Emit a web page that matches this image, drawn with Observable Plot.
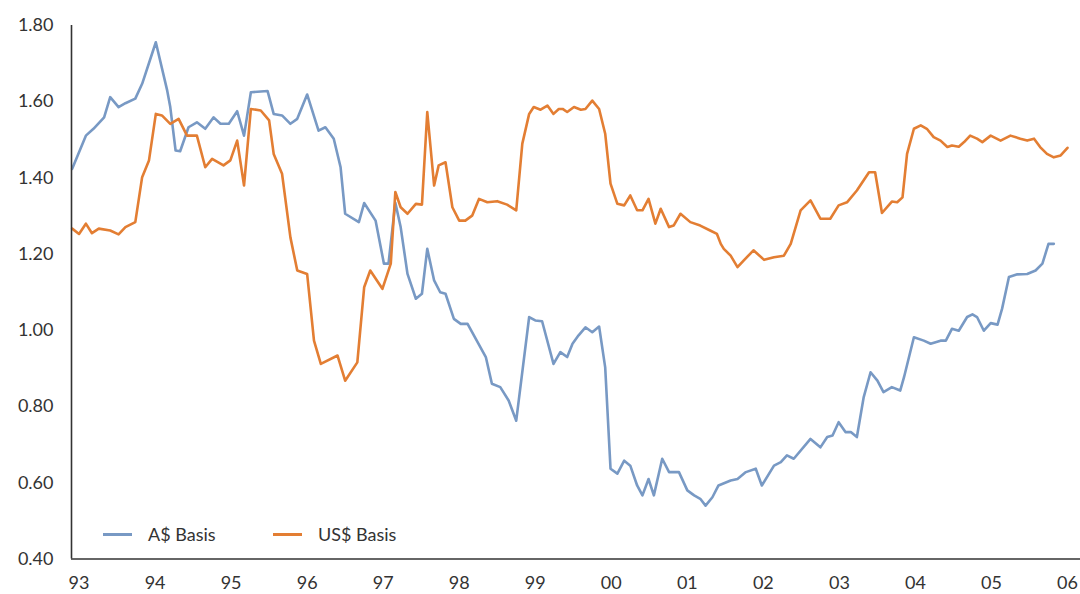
<!DOCTYPE html>
<html>
<head>
<meta charset="utf-8">
<script src="https://cdn.jsdelivr.net/npm/d3@7"></script>
<script src="https://cdn.jsdelivr.net/npm/@observablehq/plot@0.6"></script>
<style>
  html, body { margin: 0; padding: 0; background: #fff; }
  #wrap { position: relative; width: 1080px; height: 594px; font-family: Lato, "Noto Sans", sans-serif; }
  #legend { position: absolute; left: 103px; top: 523px; display: flex; align-items: center; font-size: 18px; color: #333; }
  #legend .sw { display: inline-block; width: 29px; height: 3px; margin-right: 16px; }
  #legend .item { display: flex; align-items: center; width: 170px; }
</style>
</head>
<body>
<div id="wrap"><div id="legend"></div></div>
<script>
// A$ Basis (decimal year, value)
const aYears = [1992.91,1993.09,1993.19,1993.33,1993.41,1993.52,1993.61,1993.74,1993.83,1994.01,1994.16,1994.20,1994.27,1994.33,1994.44,1994.55,1994.66,1994.77,1994.86,1994.97,
1995.08,1995.17,1995.26,1995.48,1995.56,1995.67,1995.78,1995.87,1996.00,1996.15,1996.24,1996.35,1996.44,1996.50,1996.68,1996.75,1996.90,1997.01,1997.07,1997.16,
1997.23,1997.32,1997.43,1997.51,1997.58,1997.67,1997.75,1997.82,1997.93,1998.02,1998.11,1998.35,1998.43,1998.54,1998.65,1998.75,1998.92,1999.00,1999.09,1999.24,
1999.33,1999.42,1999.49,1999.57,1999.66,1999.75,1999.84,1999.92,1999.99,2000.08,2000.17,2000.25,2000.34,2000.41,2000.49,2000.56,2000.67,2000.76,2000.89,2001.00,
2001.09,2001.17,2001.24,2001.33,2001.41,2001.57,2001.66,2001.77,2001.90,2001.98,2002.14,2002.23,2002.31,2002.40,2002.62,2002.75,2002.84,2002.91,2002.99,2003.08,
2003.15,2003.23,2003.32,2003.41,2003.50,2003.58,2003.69,2003.80,2003.85,2003.98,2004.11,2004.20,2004.33,2004.40,2004.48,2004.57,2004.68,2004.75,2004.81,2004.90,
2004.99,2005.08,2005.14,2005.23,2005.34,2005.47,2005.58,2005.67,2005.75,2005.82];
const aValues = [1.424,1.511,1.529,1.559,1.612,1.586,1.596,1.608,1.647,1.756,1.629,1.586,1.472,1.470,1.533,1.546,1.529,1.559,1.542,1.542,
1.575,1.511,1.625,1.628,1.568,1.564,1.542,1.555,1.619,1.524,1.533,1.503,1.428,1.306,1.284,1.334,1.288,1.175,1.175,1.335,
1.271,1.148,1.083,1.096,1.214,1.131,1.100,1.096,1.030,1.017,1.017,0.930,0.860,0.851,0.816,0.763,1.035,1.026,1.024,0.912,
0.943,0.930,0.965,0.987,1.008,0.995,1.010,0.903,0.637,0.624,0.658,0.645,0.593,0.567,0.610,0.567,0.663,0.628,0.628,0.580,
0.567,0.558,0.540,0.562,0.593,0.606,0.610,0.628,0.637,0.593,0.645,0.654,0.672,0.663,0.715,0.693,0.720,0.724,0.759,0.733,
0.733,0.720,0.825,0.890,0.868,0.838,0.851,0.842,0.877,0.982,0.973,0.965,0.973,0.973,1.004,0.999,1.035,1.042,1.035,0.999,
1.019,1.015,1.057,1.140,1.147,1.148,1.157,1.175,1.227,1.227];

// US$ Basis (decimal year, value)
const uYears = [1992.91,1993.00,1993.09,1993.17,1993.26,1993.41,1993.52,1993.61,1993.74,1993.83,1993.92,1994.01,1994.09,1994.20,1994.31,1994.42,1994.55,1994.66,1994.75,1994.90,
1994.99,1995.08,1995.17,1995.26,1995.39,1995.50,1995.56,1995.67,1995.78,1995.87,1996.00,1996.09,1996.18,1996.40,1996.50,1996.66,1996.75,1996.83,1996.99,1997.10,
1997.16,1997.23,1997.32,1997.43,1997.51,1997.58,1997.67,1997.73,1997.82,1997.91,1998.00,1998.08,1998.17,1998.26,1998.37,1998.50,1998.63,1998.75,1998.83,1998.92,
1998.98,1999.07,1999.16,1999.24,1999.31,1999.36,1999.42,1999.51,1999.60,1999.66,1999.75,1999.84,1999.92,1999.99,2000.08,2000.17,2000.25,2000.34,2000.41,2000.49,
2000.58,2000.65,2000.76,2000.82,2000.91,2001.04,2001.17,2001.30,2001.39,2001.44,2001.48,2001.57,2001.66,2001.74,2001.87,2002.01,2002.14,2002.27,2002.36,2002.49,
2002.62,2002.75,2002.88,2002.99,2003.10,2003.23,2003.39,2003.47,2003.56,2003.69,2003.76,2003.83,2003.89,2003.98,2004.07,2004.15,2004.24,2004.33,2004.42,2004.48,
2004.57,2004.64,2004.72,2004.81,2004.88,2004.99,2005.12,2005.25,2005.38,2005.47,2005.56,2005.64,2005.73,2005.82,2005.91,2006.00];
const uValues = [1.267,1.253,1.280,1.255,1.267,1.262,1.252,1.271,1.284,1.402,1.446,1.568,1.564,1.542,1.555,1.511,1.511,1.428,1.450,1.433,
1.446,1.498,1.380,1.581,1.577,1.551,1.463,1.411,1.244,1.157,1.148,0.973,0.912,0.934,0.868,0.916,1.113,1.157,1.109,1.175,
1.363,1.323,1.306,1.332,1.330,1.573,1.380,1.433,1.441,1.323,1.288,1.288,1.301,1.345,1.336,1.339,1.330,1.315,1.490,1.568,
1.586,1.579,1.590,1.568,1.581,1.581,1.573,1.586,1.579,1.581,1.603,1.581,1.516,1.385,1.332,1.328,1.354,1.315,1.315,1.345,
1.280,1.319,1.271,1.275,1.306,1.284,1.275,1.262,1.253,1.227,1.214,1.196,1.166,1.183,1.210,1.185,1.192,1.196,1.227,1.315,
1.341,1.293,1.293,1.328,1.336,1.367,1.415,1.415,1.308,1.338,1.336,1.349,1.463,1.529,1.538,1.529,1.507,1.498,1.481,1.485,
1.482,1.494,1.511,1.503,1.494,1.511,1.498,1.511,1.503,1.498,1.503,1.481,1.463,1.454,1.459,1.479];

const seriesNames = ["A$ Basis", "US$ Basis"];
const seriesColors = ["#7899c4", "#e37e33"];
const yTicks = [0.4, 0.6, 0.8, 1.0, 1.2, 1.4, 1.6, 1.8];
const xTicks = d3.range(1993, 2007);

const rows = [
  ...aYears.map((t, i) => ({t, v: aValues[i], s: seriesNames[0]})),
  ...uYears.map((t, i) => ({t, v: uValues[i], s: seriesNames[1]}))
];

const chart = Plot.plot({
  width: 1080,
  height: 594,
  marginLeft: 71,
  marginRight: 0,
  marginTop: 25,
  marginBottom: 35.5,
  style: {fontFamily: "Lato, 'Noto Sans', sans-serif", fontSize: "18px", color: "#333", background: "#fff"},
  x: {domain: [1992.901, 2006.171], ticks: xTicks, tickFormat: d => String(d % 100).padStart(2, "0"), tickSize: 0, tickPadding: 17, label: null},
  y: {domain: [0.4, 1.8], ticks: yTicks, tickFormat: d => d.toFixed(2), tickSize: 0, tickPadding: 18, label: null},
  color: {domain: seriesNames, range: seriesColors},
  marks: [
    Plot.line(rows, {x: "t", y: "v", z: "s", stroke: "s", strokeWidth: 2.6, curve: "linear"}),
    Plot.ruleX([1992.901], {stroke: "#333", strokeWidth: 1.6}),
    Plot.ruleY([0.4], {stroke: "#333", strokeWidth: 1.6})
  ]
});
document.getElementById("wrap").prepend(chart);

const legend = document.getElementById("legend");
seriesNames.forEach((n, i) => {
  const item = document.createElement("div");
  item.className = "item";
  const sw = document.createElement("span");
  sw.className = "sw";
  sw.style.background = seriesColors[i];
  const label = document.createElement("span");
  label.textContent = n;
  item.appendChild(sw);
  item.appendChild(label);
  legend.appendChild(item);
});
</script>
</body>
</html>
